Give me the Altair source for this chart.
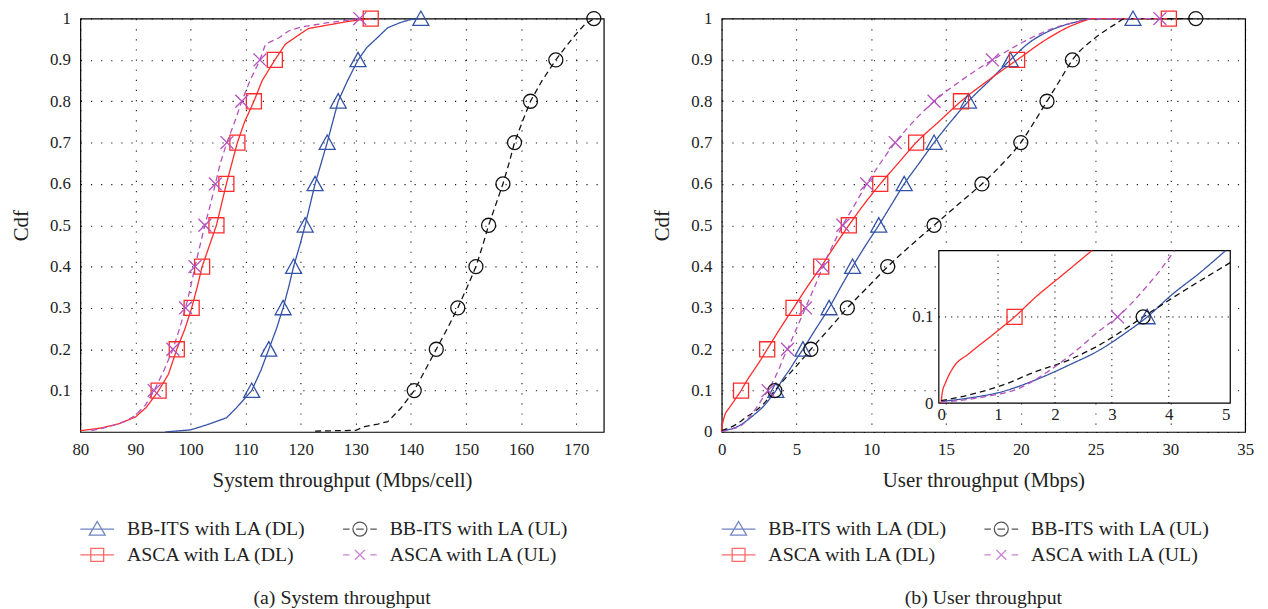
import altair as alt
import pandas as pd

# legend order is column-major: (BB-ITS DL, ASCA DL) in column 1, (BB-ITS UL, ASCA UL) in column 2
SERIES = ["BB-ITS with LA (DL)", "ASCA with LA (DL)", "BB-ITS with LA (UL)", "ASCA with LA (UL)"]
COLORS = ["#3553a6", "#ff2b2b", "#111111", "#b452bd"]
DASHES = [[1, 0], [1, 0], [6, 4], [6, 4]]
MARK_SHAPES = ["M0,-0.95L1,0.85H-1Z", "square", "circle", "M-1,-1L1,1M-1,1L1,-1"]
MARK_SIZES = [260, 170, 196, 110]
LEGEND_SHAPES = [
    "M-1.545,0H1.545M0,-0.7L0.73,0.55H-0.73Z",
    "M-1.545,0H1.545M-0.59,-0.59H0.59V0.59H-0.59Z",
    "M-1.545,0H-0.95M-0.35,0H0.35M0.95,0H1.545M0.64,0A0.64,0.64,0,1,1,-0.64,0A0.64,0.64,0,1,1,0.64,0",
    "M-1.545,0H-0.95M0.95,0H1.545M-0.45,-0.45L0.45,0.45M-0.45,0.45L0.45,-0.45",
]
CDF_LEVELS = [0.1, 0.2, 0.3, 0.4, 0.5, 0.6, 0.7, 0.8, 0.9, 1.0]

# ---------------- (a) System throughput ----------------
A_BB_DL_X = [95.4, 100, 102.9, 106.5, 108.3, 111.1, 112.8, 114.2, 115.6, 116.8, 117.8, 118.7, 119.8, 120.8,
             121.7, 122.6, 123.7, 124.8, 125.8, 126.8, 128.5, 130.4, 132, 134, 135.8, 138, 140, 141.8]
A_BB_DL_Y = [0.0, 0.005, 0.017, 0.034, 0.058, 0.1, 0.15, 0.2, 0.25, 0.3, 0.35, 0.4, 0.45, 0.5,
             0.55, 0.6, 0.65, 0.7, 0.75, 0.8, 0.85, 0.9, 0.93, 0.955, 0.978, 0.99, 0.998, 1.0]
A_BB_UL_X = [122.6, 130, 131.6, 134, 135.8, 138.2, 140.6, 142.6, 144.6, 146.6, 148.5, 150.2, 151.8, 153,
             154.1, 155.4, 156.7, 157.8, 158.8, 160.2, 161.7, 163.8, 166.3, 168, 169.8, 171.5, 173.2]
A_BB_UL_Y = [0.002, 0.004, 0.013, 0.019, 0.025, 0.058, 0.1, 0.15, 0.2, 0.25, 0.3, 0.35, 0.4, 0.45,
             0.5, 0.55, 0.6, 0.65, 0.7, 0.75, 0.8, 0.85, 0.9, 0.93, 0.96, 0.985, 1.0]
A_ASCA_DL_X = [80, 84, 87, 90, 92, 94.2, 96, 97.5, 99, 100.2, 101.2, 102.1, 103.4, 104.7, 105.6, 106.5,
               107.5, 108.5, 109.8, 111.5, 113, 115.3, 117.2, 119.6, 121.4, 125.6, 129, 132.7]
A_ASCA_DL_Y = [0.003, 0.01, 0.02, 0.036, 0.06, 0.1, 0.14, 0.2, 0.25, 0.3, 0.35, 0.4, 0.45, 0.5, 0.55, 0.6,
               0.65, 0.7, 0.75, 0.8, 0.85, 0.9, 0.938, 0.96, 0.976, 0.986, 0.994, 1.0]
A_ASCA_UL_X = [82, 85, 88, 90, 91.8, 93.4, 95.2, 96.8, 98, 99.1, 100, 100.8, 101.7, 102.6, 103.6, 104.5,
               105.4, 106.6, 108, 109.3, 110.8, 112.6, 113.6, 116, 117.8, 120.2, 125, 130.7]
A_ASCA_UL_Y = [0.003, 0.012, 0.025, 0.04, 0.065, 0.1, 0.15, 0.2, 0.25, 0.3, 0.35, 0.4, 0.45, 0.5, 0.55, 0.6,
               0.65, 0.7, 0.75, 0.8, 0.85, 0.9, 0.938, 0.953, 0.97, 0.98, 0.99, 1.0]
A_MARK_BB_DL = [111.1, 114.2, 116.8, 118.7, 120.8, 122.6, 124.8, 126.8, 130.4, 141.8]
A_MARK_BB_UL = [140.6, 144.6, 148.5, 151.8, 154.1, 156.7, 158.8, 161.7, 166.3, 173.2]
A_MARK_ASCA_DL = [94.2, 97.5, 100.2, 102.1, 104.7, 106.5, 108.5, 111.5, 115.3, 132.7]
A_MARK_ASCA_UL = [93.4, 96.8, 99.1, 100.8, 102.6, 104.5, 106.6, 109.3, 112.6, 130.7]
A_X_DOMAIN = [80, 175]
A_X_TICKS = [80, 90, 100, 110, 120, 130, 140, 150, 160, 170]
A_Y_TICKS = [0.1, 0.2, 0.3, 0.4, 0.5, 0.6, 0.7, 0.8, 0.9, 1.0]

# ---------------- (b) User throughput ----------------
B_BB_DL_X = [0, 0.49, 1.08, 1.66, 2.24, 2.82, 3.23, 3.62, 4.04, 4.56, 5.0, 5.43, 6.3, 7.18, 7.95, 8.75, 9.6,
             10.5, 11.35, 12.2, 13.2, 14.2, 15.3, 16.5, 17.9, 19.3, 20.5, 21.9, 23.5, 25.0, 27.5]
B_BB_DL_Y = [0.002, 0.006, 0.0135, 0.027, 0.044, 0.063, 0.081, 0.1, 0.125, 0.152, 0.177, 0.2, 0.25, 0.3, 0.35,
             0.4, 0.45, 0.5, 0.55, 0.6, 0.65, 0.7, 0.75, 0.8, 0.85, 0.9, 0.94, 0.97, 0.99, 1.0, 1.0]
B_BB_UL_X = [0, 0.49, 1.08, 1.66, 2.24, 2.82, 3.55, 4.04, 5.08, 5.96, 7.2, 8.4, 9.75, 11.1, 12.6, 14.2, 15.8,
             17.4, 18.8, 20.0, 20.9, 21.75, 22.6, 23.45, 25.0, 26.3, 27.0, 31.7]
B_BB_UL_Y = [0.003, 0.0096, 0.021, 0.0365, 0.05, 0.069, 0.1, 0.121, 0.163, 0.2, 0.25, 0.3, 0.35, 0.4, 0.45,
             0.5, 0.55, 0.6, 0.65, 0.7, 0.75, 0.8, 0.85, 0.9, 0.954, 0.986, 1.0, 1.0]
B_ASCA_DL_X = [0, 0.02, 0.08, 0.2, 0.5, 0.9, 1.29, 1.66, 2.12, 2.65, 3.04, 3.9, 4.8, 5.7, 6.65, 7.55, 8.5, 9.5,
               10.6, 11.8, 13.0, 14.5, 16.0, 17.8, 19.75, 21.9, 23.6, 25.0, 29.9]
B_ASCA_DL_Y = [0, 0.012, 0.024, 0.04, 0.058, 0.079, 0.1, 0.123, 0.148, 0.177, 0.2, 0.25, 0.3, 0.35, 0.4, 0.45,
               0.5, 0.55, 0.6, 0.65, 0.7, 0.75, 0.8, 0.85, 0.9, 0.954, 0.986, 1.0, 1.0]
B_ASCA_UL_X = [0, 0.78, 1.37, 1.95, 2.41, 2.76, 3.1, 3.58, 3.87, 4.1, 4.4, 5.0, 5.6, 6.2, 6.76, 7.4, 8.1, 8.9,
               9.7, 10.6, 11.6, 12.8, 14.2, 16.0, 18.1, 20.3, 21.9, 23.5, 25.0, 29.3]
B_ASCA_UL_Y = [0.001, 0.0077, 0.0173, 0.04, 0.063, 0.083, 0.1, 0.133, 0.156, 0.177, 0.2, 0.25, 0.3, 0.35, 0.4,
               0.45, 0.5, 0.55, 0.6, 0.65, 0.7, 0.75, 0.8, 0.85, 0.9, 0.946, 0.973, 0.99, 1.0, 1.0]
B_MARK_BB_DL = [3.62, 5.43, 7.18, 8.75, 10.5, 12.2, 14.2, 16.5, 19.3, 27.5]
B_MARK_BB_UL = [3.55, 5.96, 8.4, 11.1, 14.2, 17.4, 20.0, 21.75, 23.45, 31.7]
B_MARK_ASCA_DL = [1.29, 3.04, 4.8, 6.65, 8.5, 10.6, 13.0, 16.0, 19.75, 29.9]
B_MARK_ASCA_UL = [3.1, 4.4, 5.6, 6.76, 8.1, 9.7, 11.6, 14.2, 18.1, 29.3]
B_X_DOMAIN = [0, 35]
B_X_TICKS = [0, 5, 10, 15, 20, 25, 30, 35]
B_Y_TICKS = [0, 0.1, 0.2, 0.3, 0.4, 0.5, 0.6, 0.7, 0.8, 0.9, 1.0]

# inset of (b)
INSET_X_DOMAIN = [-0.04, 5.08]
INSET_Y_DOMAIN = [0, 0.177]
INSET_X_TICKS = [0, 1, 2, 3, 4, 5]
INSET_Y_TICKS = [0, 0.1]
INSET_X_GRID = [1, 2, 3, 4]
INSET_Y_GRID = [0.1]

FONT = "Liberation Serif"
TXT = "#222222"
W, H = 528, 417


def curves(xs, ys):
    rows = []
    for name, xv, yv in zip(SERIES, xs, ys):
        rows += [{"series": name, "x": a, "y": b} for a, b in zip(xv, yv)]
    return pd.DataFrame(rows)


def markers(xs):
    rows = []
    for name, xv in zip(SERIES, xs):
        rows += [{"series": name, "x": a, "y": b} for a, b in zip(xv, CDF_LEVELS)]
    return pd.DataFrame(rows)


color_scale = alt.Scale(domain=SERIES, range=COLORS)
dash_scale = alt.Scale(domain=SERIES, range=DASHES)
shape_scale = alt.Scale(domain=SERIES, range=MARK_SHAPES)
size_scale = alt.Scale(domain=SERIES, range=MARK_SIZES)
legend_shape_scale = alt.Scale(domain=SERIES, range=LEGEND_SHAPES)


def series_layers(cdf, mdf, xenc, yenc, interp):
    lines = alt.Chart(cdf).mark_line(strokeWidth=1.3, interpolate=interp).encode(
        x=xenc, y=yenc,
        color=alt.Color("series:N", scale=color_scale, legend=None),
        strokeDash=alt.StrokeDash("series:N", scale=dash_scale, legend=None),
    )
    pts = alt.Chart(mdf).mark_point(filled=False, strokeWidth=1.3, opacity=1).encode(
        x=xenc, y=yenc,
        color=alt.Color("series:N", scale=color_scale, legend=None),
        shape=alt.Shape("series:N", scale=shape_scale, legend=None),
        size=alt.Size("series:N", scale=size_scale, legend=None),
    )
    return lines, pts


def make_legend(legend_y):
    return alt.Legend(
        orient="none", legendX=0, legendY=legend_y, columns=2, title=None,
        columnPadding=34, rowPadding=4, symbolSize=484, symbolStrokeWidth=1.3,
        symbolOffset=5, labelOffset=18, labelFont=FONT, labelFontSize=20, labelColor=TXT,
        labelLimit=0, padding=0, symbolFillColor="transparent")


def legend_layer(legend_y):
    df = pd.DataFrame({"series": SERIES})
    return alt.Chart(df).mark_point(filled=False, strokeWidth=1.3).encode(
        color=alt.Color("series:N", scale=color_scale, legend=make_legend(legend_y)),
        shape=alt.Shape("series:N", scale=legend_shape_scale, legend=make_legend(legend_y)),
    ).transform_filter("false")


def main_axes(xdom, xticks, xtitle, yticks):
    xenc = alt.X("x:Q", scale=alt.Scale(domain=xdom, nice=False, zero=False),
                 axis=alt.Axis(values=xticks, title=xtitle, grid=True, format="d"))
    yenc = alt.Y("y:Q", scale=alt.Scale(domain=[0, 1], nice=False, zero=False),
                 axis=alt.Axis(values=yticks, title="Cdf", grid=True, format="~g"))
    return xenc, yenc


def caption(text):
    return alt.TitleParams(text, orient="bottom", anchor="middle", frame="group",
                           font=FONT, fontSize=20, fontWeight="normal", color=TXT, offset=24)


LEGEND_Y = 503

# ----- panel (a)
xa, ya = main_axes(A_X_DOMAIN, A_X_TICKS, "System throughput (Mbps/cell)", A_Y_TICKS)
la, pa = series_layers(curves([A_BB_DL_X, A_ASCA_DL_X, A_BB_UL_X, A_ASCA_UL_X],
                              [A_BB_DL_Y, A_ASCA_DL_Y, A_BB_UL_Y, A_ASCA_UL_Y]),
                       markers([A_MARK_BB_DL, A_MARK_ASCA_DL, A_MARK_BB_UL, A_MARK_ASCA_UL]),
                       xa, ya, "linear")
panel_a = alt.layer(la, pa, legend_layer(LEGEND_Y)).resolve_scale(
    color="independent", shape="independent").properties(
    width=W, height=H, title=caption("(a)  System throughput"))

# ----- panel (b)
xb, yb = main_axes(B_X_DOMAIN, B_X_TICKS, "User throughput (Mbps)", B_Y_TICKS)
b_curves = curves([B_BB_DL_X, B_ASCA_DL_X, B_BB_UL_X, B_ASCA_UL_X],
                  [B_BB_DL_Y, B_ASCA_DL_Y, B_BB_UL_Y, B_ASCA_UL_Y])
b_marks = markers([B_MARK_BB_DL, B_MARK_ASCA_DL, B_MARK_BB_UL, B_MARK_ASCA_UL])
lb, pb = series_layers(b_curves, b_marks, xb, yb, "monotone")
main_b = alt.layer(lb, pb, legend_layer(LEGEND_Y)).resolve_scale(color="independent", shape="independent")

ix_scale = alt.Scale(domain=INSET_X_DOMAIN, range=[219, 513], nice=False, zero=False)
iy_scale = alt.Scale(domain=INSET_Y_DOMAIN, range=[388, 234], nice=False, zero=False)
frame_df = pd.DataFrame({"x0": [INSET_X_DOMAIN[0]], "x1": [INSET_X_DOMAIN[1]],
                         "y0": [INSET_Y_DOMAIN[0]], "y1": [INSET_Y_DOMAIN[1]]})
inset_frame = alt.Chart(frame_df).mark_rect(fill="white", stroke="black", strokeWidth=1.2).encode(
    x=alt.X("x0:Q", scale=ix_scale, axis=alt.Axis(orient="bottom", offset=-29, values=INSET_X_TICKS,
                                                  grid=False, domain=False, ticks=False, title=None,
                                                  format="d", labelPadding=3)),
    x2="x1:Q",
    y=alt.Y("y0:Q", scale=iy_scale, axis=alt.Axis(orient="left", offset=-219, values=INSET_Y_TICKS,
                                                  grid=False, domain=False, ticks=False, title=None,
                                                  format="~g", labelPadding=6)),
    y2="y1:Q",
)
inset_vgrid = alt.Chart(pd.DataFrame({"v": INSET_X_GRID})).mark_rule(
    color="black", strokeDash=[1.2, 5], strokeWidth=1).encode(
    x=alt.X("v:Q", scale=ix_scale), y=alt.datum(INSET_Y_DOMAIN[0]), y2=alt.datum(INSET_Y_DOMAIN[1]))
inset_hgrid = alt.Chart(pd.DataFrame({"v": INSET_Y_GRID})).mark_rule(
    color="black", strokeDash=[1.2, 5], strokeWidth=1).encode(
    y=alt.Y("v:Q", scale=iy_scale), x=alt.datum(INSET_X_DOMAIN[0]), x2=alt.datum(INSET_X_DOMAIN[1]))
ixe = alt.X("x:Q", scale=ix_scale)
iye = alt.Y("y:Q", scale=iy_scale)
filt = f"datum.x <= {INSET_X_DOMAIN[1] + 0.01} && datum.y <= {INSET_Y_DOMAIN[1] + 0.0005}"
il, ip = series_layers(b_curves, b_marks, ixe, iye, "monotone")
inset = alt.layer(inset_frame, inset_vgrid, inset_hgrid,
                  il.transform_filter(filt), ip.transform_filter(filt))

panel_b = alt.layer(main_b, inset).resolve_scale(
    x="independent", y="independent", color="independent", shape="independent").properties(
    width=W, height=H, title=caption("(b)  User throughput"))

chart = alt.hconcat(panel_a, panel_b, spacing=47).resolve_scale(
    color="independent", shape="independent", strokeDash="independent", size="independent"
).configure(font=FONT).configure_view(stroke="black", strokeWidth=1.2).configure_axis(
    labelFont=FONT, labelFontSize=17, labelColor=TXT, titleFont=FONT, titleFontSize=21,
    titleFontWeight="normal", titleColor=TXT, domain=False, ticks=False, labelPadding=10,
    labelFlush=False, gridColor="black", gridDash=[1.2, 9], gridOpacity=0.9, gridWidth=1.1,
).configure_axisX(titlePadding=12).configure_axisY(titlePadding=18).properties(
    padding={"left": 2, "top": -3, "right": 5, "bottom": 5})

chart.save("out.html", embed_options={"renderer": "svg", "actions": False})
